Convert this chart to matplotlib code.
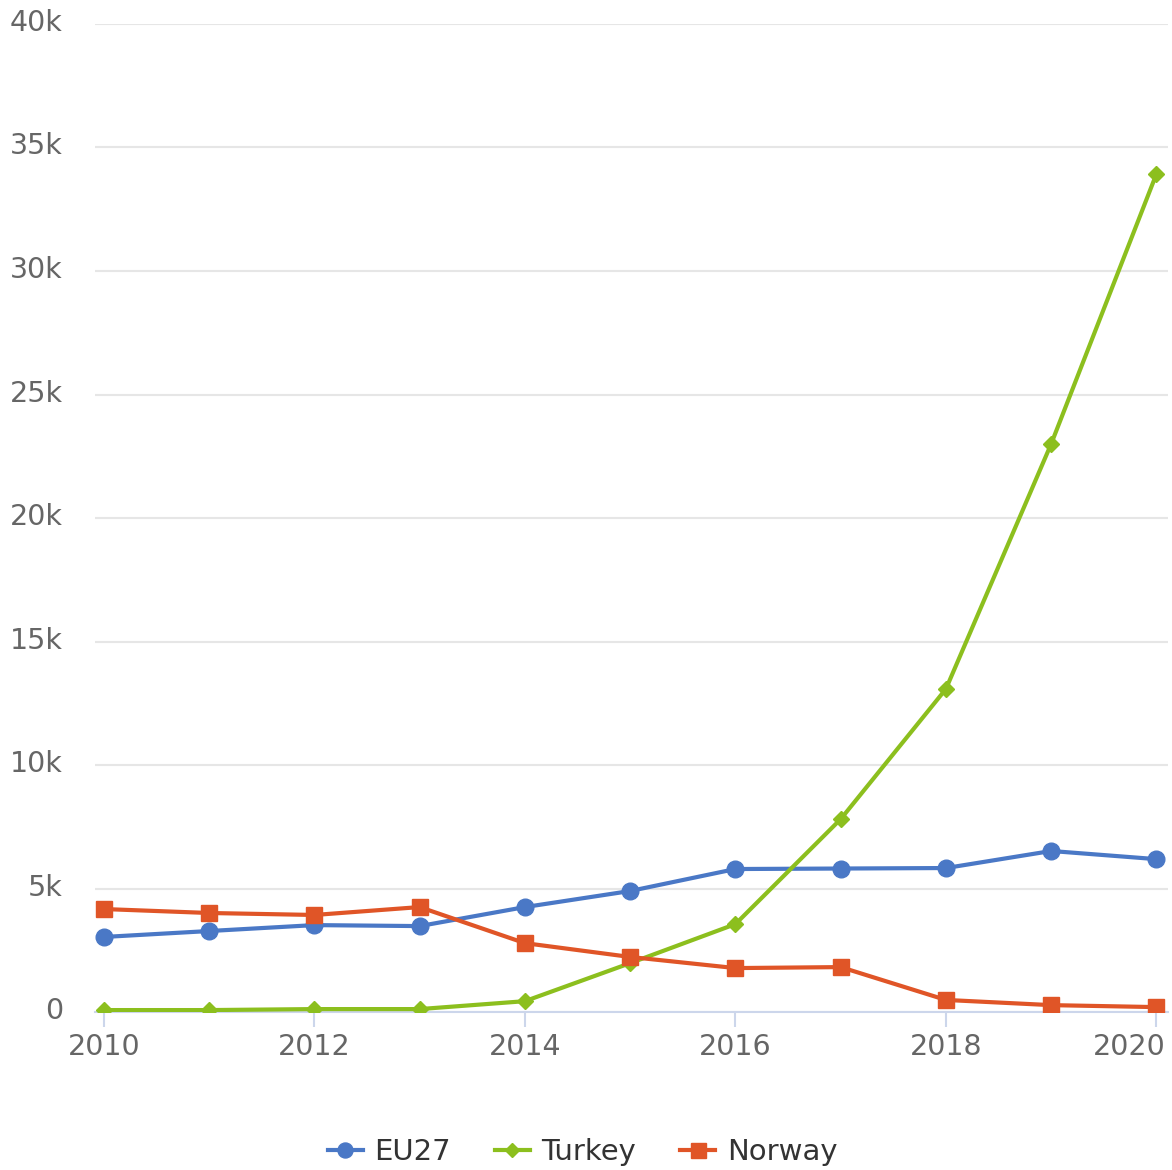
import matplotlib
matplotlib.use("Agg")
from matplotlib import pyplot as plt
from matplotlib.ticker import FuncFormatter
from matplotlib.transforms import ScaledTranslation

years = [2010, 2011, 2012, 2013, 2014, 2015, 2016, 2017, 2018, 2019, 2020]
eu27 = [3040, 3280, 3520, 3480, 4250, 4900, 5790, 5810, 5830, 6520, 6190]
turkey = [80, 80, 120, 120, 440, 1980, 3560, 7810, 13080, 23000, 33930]
norway = [4170, 4010, 3930, 4250, 2790, 2230, 1780, 1820, 490, 280, 200]

plt.rcParams["font.family"] = ["DejaVu Sans"]

fig = plt.figure(figsize=(11.72, 11.70), dpi=100)
ax = fig.add_axes([0.081, 0.135, 0.9156, 0.8445])

ax.plot(years, eu27, color="#4a78c6", lw=3, marker="o", ms=12, label="EU27", zorder=3)
ax.plot(years, turkey, color="#8cbf1e", lw=3, marker="D", ms=8, label="Turkey", zorder=3)
ax.plot(years, norway, color="#e05527", lw=3, marker="s", ms=12, label="Norway", zorder=3)

ax.set_xlim(2009.915, 2020.11)
ax.set_ylim(0, 40000)
ax.set_yticks(range(0, 40001, 5000))
ax.yaxis.set_major_formatter(FuncFormatter(lambda v, p: "0" if v == 0 else f"{int(v/1000)}k"))
ax.set_xticks(range(2010, 2021, 2))

ax.grid(axis="y", color="#e6e6e6", lw=1.5)
ax.set_axisbelow(True)
for s in ["top", "right", "left"]:
    ax.spines[s].set_visible(False)
ax.spines["bottom"].set_color("#ccd6eb")
ax.spines["bottom"].set_linewidth(1.5)
ax.tick_params(axis="y", length=0, pad=23, labelsize=20.5, labelcolor="#666666")
ax.tick_params(axis="x", length=11, width=1.5, color="#ccd6eb", pad=4, labelsize=20.5, labelcolor="#666666")
up = ScaledTranslation(0, 4 / 100, fig.dpi_scale_trans)
for lab in ax.get_yticklabels():
    lab.set_transform(lab.get_transform() + up)
xl = ax.get_xticklabels()
xl[-1].set_horizontalalignment("right")
xl[-1].set_transform(xl[-1].get_transform() + ScaledTranslation(9 / 100, 0, fig.dpi_scale_trans))

leg = fig.legend(loc="center", bbox_to_anchor=(0.497, 0.015), ncol=3, frameon=False,
                 fontsize=21, handlelength=1.2, columnspacing=1.5, handletextpad=0.4,
                 markerscale=0.9)
for t in leg.get_texts():
    t.set_color("#333333")

fig.savefig("out.png", dpi=100)
